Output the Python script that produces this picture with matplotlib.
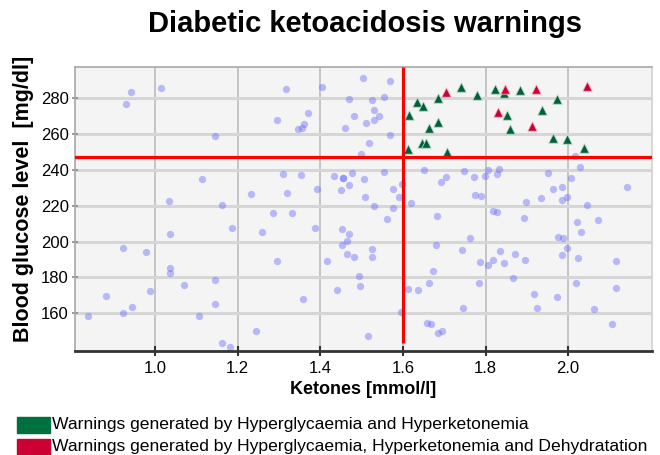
import matplotlib
matplotlib.use("Agg")
import matplotlib.pyplot as plt
from matplotlib.patches import Rectangle

plt.rcParams['font.family'] = ['Liberation Sans', 'DejaVu Sans']

title = "Diabetic ketoacidosis warnings"
xlabel = "Ketones [mmol/l]"
ylabel = "Blood glucose level  [mg/dl]"
legend_labels = ["Warnings generated by Hyperglycaemia and Hyperketonemia",
                 "Warnings generated by Hyperglycaemia, Hyperketonemia and Dehydratation"]
xticks = [1.0, 1.2, 1.4, 1.6, 1.8, 2.0]
yticks = [160, 180, 200, 220, 240, 260, 280]
ketone_threshold = 1.6
glucose_threshold = 247.5

normal_x = [0.942, 0.930, 1.015, 1.316, 1.404, 1.504, 1.569, 1.469, 1.526, 1.553,
            1.371, 1.295, 1.361, 1.345, 1.355, 1.482, 1.529, 1.541, 1.511, 1.531,
            1.459, 1.569, 1.145, 1.517, 1.499, 1.310, 1.354, 1.114, 1.432, 1.454,
            1.454, 1.477, 1.506, 1.553, 1.469, 1.393, 1.451, 1.576, 1.598, 1.233,
            1.320, 1.509, 1.591, 1.034, 1.163, 1.530, 1.576, 1.285, 1.332, 1.562,
            1.035, 1.187, 1.258, 1.386, 1.453, 1.470, 1.465, 1.452, 1.526, 1.465,
            1.482, 1.525, 0.923, 0.979, 1.295, 1.416, 1.035, 1.035, 1.144, 1.070,
            1.493, 1.495, 1.441, 0.988, 0.880, 0.944, 0.923, 0.838, 1.145, 1.107,
            1.357, 1.613, 1.596, 1.245, 1.516, 1.161, 1.181,
            1.651, 1.749, 1.705, 1.692, 1.771, 1.799, 1.807, 1.833, 1.827, 1.950,
            2.017, 2.029, 2.008, 1.963, 1.986, 2.142, 1.774, 1.788, 1.935, 1.898,
            1.984, 1.996, 1.619, 2.045, 1.682, 1.819, 1.828, 1.892, 2.021, 2.073,
            2.031, 1.763, 1.681, 1.975, 1.987, 1.998, 1.742, 1.834, 1.871, 1.985,
            1.787, 1.807, 1.817, 1.845, 1.896, 2.023, 2.116, 1.673, 1.866, 1.663,
            1.785, 2.020, 2.117, 1.636, 1.918, 1.974, 1.746, 1.924, 2.063, 1.659,
            1.669, 1.686, 1.695, 2.107]
normal_y = [283.5, 276.6, 285.6, 285.4, 286.5, 291.3, 289.7, 279.4, 279.0, 280.7,
            272.0, 267.9, 265.5, 263.0, 263.3, 270.0, 273.5, 270.3, 266.0, 267.7,
            263.2, 259.5, 259.0, 254.9, 249.0, 237.9, 237.0, 234.7, 236.8, 235.3,
            235.6, 238.4, 234.7, 238.8, 231.6, 229.5, 228.8, 229.5, 232.3, 226.5,
            226.9, 225.0, 224.7, 222.8, 220.6, 219.8, 218.7, 216.1, 215.8, 212.6,
            204.2, 207.7, 205.1, 207.5, 207.0, 204.4, 200.4, 197.9, 195.8, 192.8,
            191.5, 191.5, 196.5, 194.3, 189.2, 189.2, 185.0, 182.6, 178.5, 175.9,
            180.7, 175.1, 172.7, 172.5, 169.8, 163.6, 160.1, 158.4, 165.1, 158.4,
            167.7, 173.6, 160.5, 150.0, 147.2, 143.1, 141.3,
            239.8, 239.2, 236.2, 233.2, 236.0, 236.8, 240.0, 240.3, 237.7, 238.4,
            247.9, 241.6, 235.3, 229.3, 230.3, 230.3, 225.8, 225.6, 224.5, 222.0,
            223.2, 224.9, 221.3, 220.4, 214.4, 217.2, 216.3, 213.0, 211.1, 212.0,
            205.1, 201.8, 198.0, 202.7, 202.1, 196.5, 195.3, 194.9, 192.8, 192.6,
            188.4, 187.0, 189.5, 187.8, 189.7, 191.0, 189.3, 183.3, 179.8, 176.8,
            176.6, 176.6, 174.0, 172.9, 170.5, 169.2, 163.0, 162.7, 162.5, 154.6,
            153.9, 149.0, 150.0, 153.7]

green_x = [1.741, 1.822, 1.844, 1.884, 1.779, 1.685, 1.972, 1.634, 1.649, 1.614,
           1.852, 1.936, 1.686, 1.664, 1.860, 1.964, 1.996, 1.647, 1.656, 1.706,
           1.613, 2.039]
green_y = [286.1, 285.0, 282.8, 284.5, 281.8, 280.3, 279.8, 278.1, 275.9, 270.5,
           270.5, 273.3, 266.9, 263.6, 263.0, 258.0, 257.1, 254.9, 254.9, 250.0,
           251.5, 252.4]

red_x = [1.705, 1.846, 1.922, 2.046, 1.829, 1.913]
red_y = [283.4, 285.4, 285.0, 287.0, 272.2, 264.5]

W, H = 660, 455
fig = plt.figure(figsize=(W / 100, H / 100), dpi=100)
ax = fig.add_axes([75 / W, 1 - 351 / H, (652 - 75) / W, (351 - 66.7) / H])
ax.set_facecolor('#f4f4f4')
ax.set_xlim(0.806, 2.203)
ax.set_ylim(138.8, 297.7)

ax.set_xticks(xticks)
ax.set_xticklabels([f"{v:.1f}" for v in xticks])
ax.set_yticks(yticks)
ax.set_yticklabels([str(v) for v in yticks])
ax.grid(axis='y', color='#d6d6d6', lw=2.2, zorder=0)
ax.grid(axis='x', color='#c4c4c4', lw=1.4, zorder=0)
ax.set_axisbelow(True)

for s in ['left', 'top', 'right']:
    ax.spines[s].set_color('#a8a8a8')
    ax.spines[s].set_linewidth(1.2)
ax.spines['right'].set_color('#d0d0d0')
ax.spines['bottom'].set_color('#333333')
ax.spines['bottom'].set_linewidth(2.0)
ax.tick_params(axis='x', direction='inout', length=7, width=1.5, color='#333333',
               labelsize=12, pad=4)
ax.tick_params(axis='y', direction='inout', length=5, width=1.2, color='#888888',
               labelsize=12, pad=2)

ax.scatter(normal_x, normal_y, s=28, color=(0.40, 0.40, 1.0), alpha=0.42,
           linewidths=0, zorder=2)
ax.scatter(green_x, green_y, s=46, marker='^', color='#00603a',
           edgecolors='#b8d8c4', linewidths=0.6, zorder=3)
ax.scatter(red_x, red_y, s=46, marker='^', color='#cc0033',
           edgecolors='#f0b8c4', linewidths=0.6, zorder=3)

ax.axhline(glucose_threshold, color='#ff0000', lw=2.3, zorder=4)
ax.vlines(ketone_threshold, 143.3, 297.7, color='#ff0000', lw=2.3, zorder=4)

ax.set_xlabel(xlabel, fontsize=13, fontweight='bold', labelpad=3)
ax.set_ylabel(ylabel, fontsize=15.5, fontweight='bold')
ax.yaxis.set_label_coords(-41 / 577, (351 - 199) / (351 - 66.7))

fig.text(365 / W, 1 - 24 / H, title, fontsize=21, fontweight='bold',
         ha='center', va='center')

colors = ['#007040', '#cc0033']
rows = [425, 447]
for lab, c, yc in zip(legend_labels, colors, rows):
    fig.patches.append(Rectangle((17 / W, 1 - (yc + 8) / H), 33 / W, 16 / H,
                                 transform=fig.transFigure, color=c))
    fig.text(52 / W, 1 - yc / H, lab, fontsize=12.6, ha='left', va='center')

fig.savefig('out.png', dpi=100)
